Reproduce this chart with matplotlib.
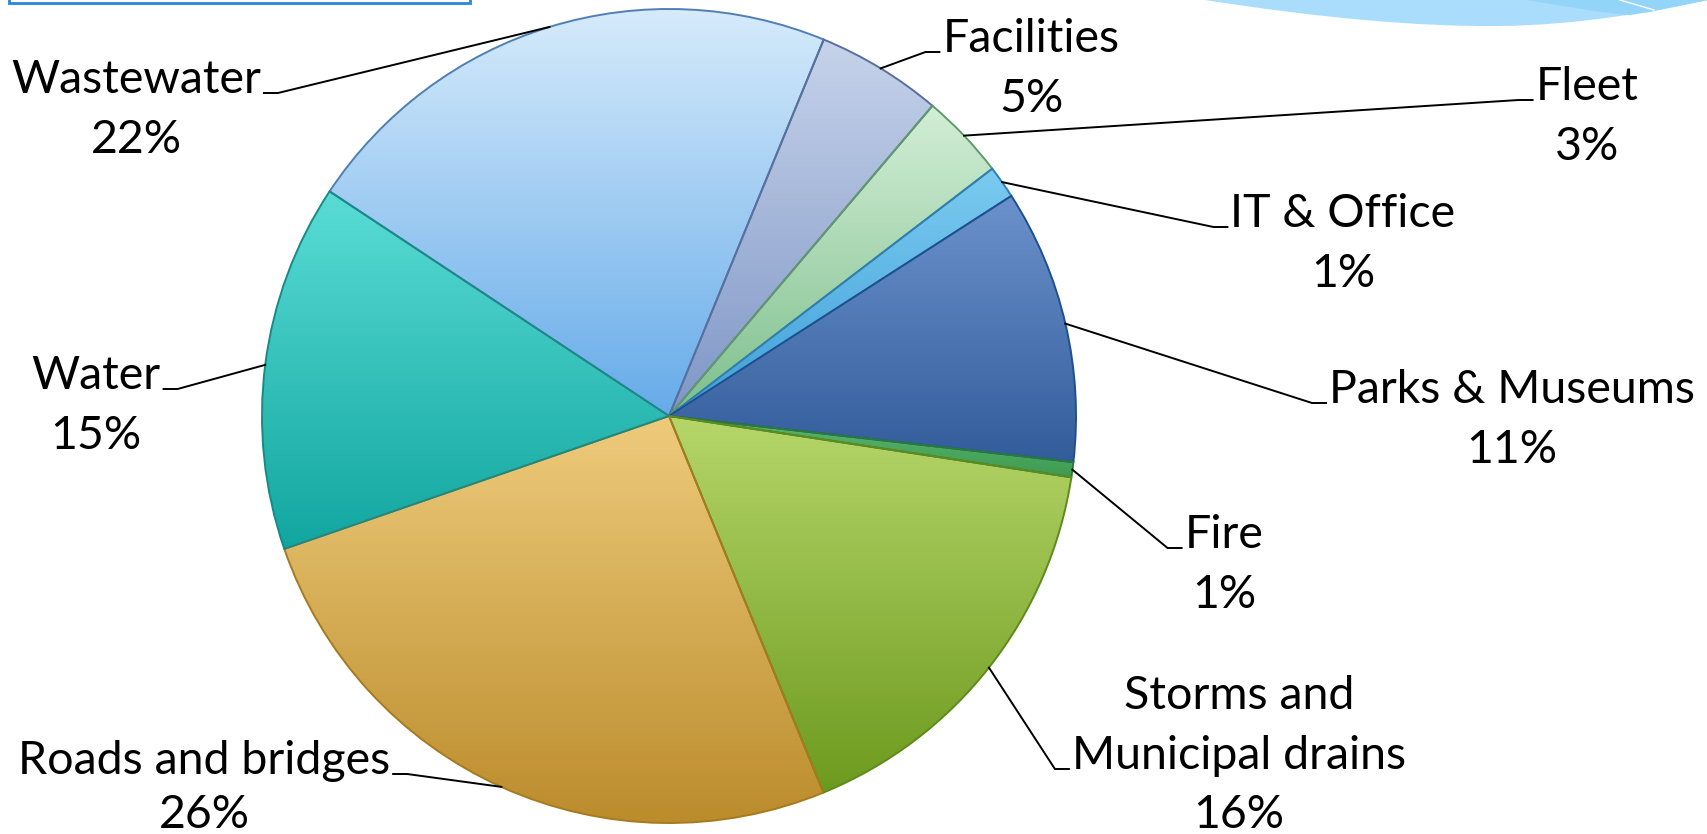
import numpy as np
import matplotlib.pyplot as plt
from matplotlib.patches import Rectangle, PathPatch
from matplotlib.path import Path
from matplotlib.colors import to_rgb

plt.rcParams["font.family"] = ["Lato", "DejaVu Sans"]

W, H = 1708, 834

labels = ["Wastewater", "Facilities", "Fleet", "IT & Office", "Parks & Museums",
          "Fire", "Storms and\nMunicipal drains", "Roads and bridges", "Water"]
shares = [21.9, 5.0, 3.4, 1.3, 10.9, 0.6, 16.4, 25.9, 14.6]

# gradient colours, top -> bottom
top_colors = ["#d6ebfb", "#c6d3ea", "#d3eed6", "#7ccbf0", "#6b92cb",
              "#5cb870", "#b6d66a", "#eecb7c", "#5adcd6"]
bot_colors = ["#66abe9", "#7f96c6", "#7dbf8c", "#3e9fd9", "#335c9b",
              "#3f9a52", "#6c9a1e", "#bb8c2c", "#12a6a0"]
edge_colors = ["#4f7fb3", "#5a6f9e", "#5f9a6c", "#2d7fb5", "#1f4f8f",
               "#2a7a3a", "#5f8a1c", "#a57a20", "#1a8a86"]

# label layout in pixels: block centre x, baseline of last name line, side of the leader tick
label_cx = [136, 1031, 1587, 1343, 1512, 1224, 1239, 204, 96]
label_by = [93, 52, 100, 227, 403, 548, 769, 774, 389]
tick_side = [1, -1, -1, -1, -1, -1, -1, 1, 1]

center = (669, 416)
radius = 407
line_gap = 60
fsize = 33.5

fig = plt.figure(figsize=(W / 100, H / 100), dpi=100)
ax = fig.add_axes([0, 0, 1, 1])

wedges, _ = ax.pie(shares, startangle=-146.5, counterclock=True,
                   center=center, radius=radius,
                   wedgeprops=dict(facecolor="none", linewidth=1.4))
ax.set_xlim(0, W)
ax.set_ylim(H, 0)
ax.set_aspect("equal")
ax.axis("off")

for w, c0, c1, ec in zip(wedges, top_colors, bot_colors, edge_colors):
    w.set_edgecolor(ec)
    w.set_zorder(3)
    bb = w.get_path().get_extents()
    t = np.linspace(0, 1, 256)[:, None, None]
    grad = (1 - t) * np.array(to_rgb(c0)) + t * np.array(to_rgb(c1))
    img = ax.imshow(grad, extent=(bb.x0, bb.x1, bb.y1, bb.y0), origin="upper",
                    aspect="auto", interpolation="bilinear", zorder=2)
    img.set_clip_path(w)

fig.canvas.draw()
renderer = fig.canvas.get_renderer()
inv = ax.transData.inverted()

for w, name, share, cx, by, side in zip(wedges, labels, shares, label_cx, label_by, tick_side):
    lines = name.split("\n")
    last = None
    for k, line in enumerate(lines):
        y = by - line_gap * (len(lines) - 1 - k)
        last = ax.text(cx, y, line, ha="center", va="baseline", fontsize=fsize,
                       color="black", zorder=5)
    # percent line, kept inside the picture
    py = min(by + line_gap, H - 6)
    ax.text(cx, py, f"{round(share):.0f}%", ha="center", va="baseline",
            fontsize=fsize, color="black", zorder=5)

    ext = last.get_window_extent(renderer)
    (x0, _), (x1, _) = inv.transform([[ext.x0, ext.y0], [ext.x1, ext.y1]])
    lx, rx = min(x0, x1), max(x0, x1)
    tx = rx + 3 if side > 0 else lx - 3
    tx2 = tx + 14 * side
    mid = np.deg2rad((w.theta1 + w.theta2) / 2)
    ex = center[0] + radius * np.cos(mid)
    ey = center[1] + radius * np.sin(mid)
    ax.plot([tx, tx2, ex], [by, by, ey], color="black", lw=1.4, zorder=4,
            solid_joinstyle="miter")

# header box remnant (top left)
ax.add_patch(Rectangle((9, -20), 461, 23, facecolor="white", edgecolor="#2a87d6",
                       lw=2, zorder=6))

# wave decoration (top right)
wave = Path([(1205, 0), (1320, 18), (1420, 27), (1500, 26),
             (1580, 25), (1650, 12), (1708, 0), (1708, -5), (1205, -5), (1205, 0)],
            [Path.MOVETO, Path.CURVE4, Path.CURVE4, Path.CURVE4,
             Path.CURVE4, Path.CURVE4, Path.CURVE4, Path.LINETO, Path.LINETO,
             Path.CLOSEPOLY])
ax.add_patch(PathPatch(wave, facecolor="#a9ddfb", edgecolor="none", zorder=6))
band = Path([(1526, 0), (1575, 8), (1610, 14), (1630, 15),
             (1650, 12), (1708, 0), (1526, 0)],
            [Path.MOVETO, Path.CURVE4, Path.CURVE4, Path.CURVE4,
             Path.LINETO, Path.LINETO, Path.CLOSEPOLY])
ax.add_patch(PathPatch(band, facecolor="#93d5f9", edgecolor="none", zorder=6))
ax.plot([1620, 1654], [0, 10], color="white", lw=1, zorder=7)

fig.savefig("out.png", dpi=100, facecolor="white")
